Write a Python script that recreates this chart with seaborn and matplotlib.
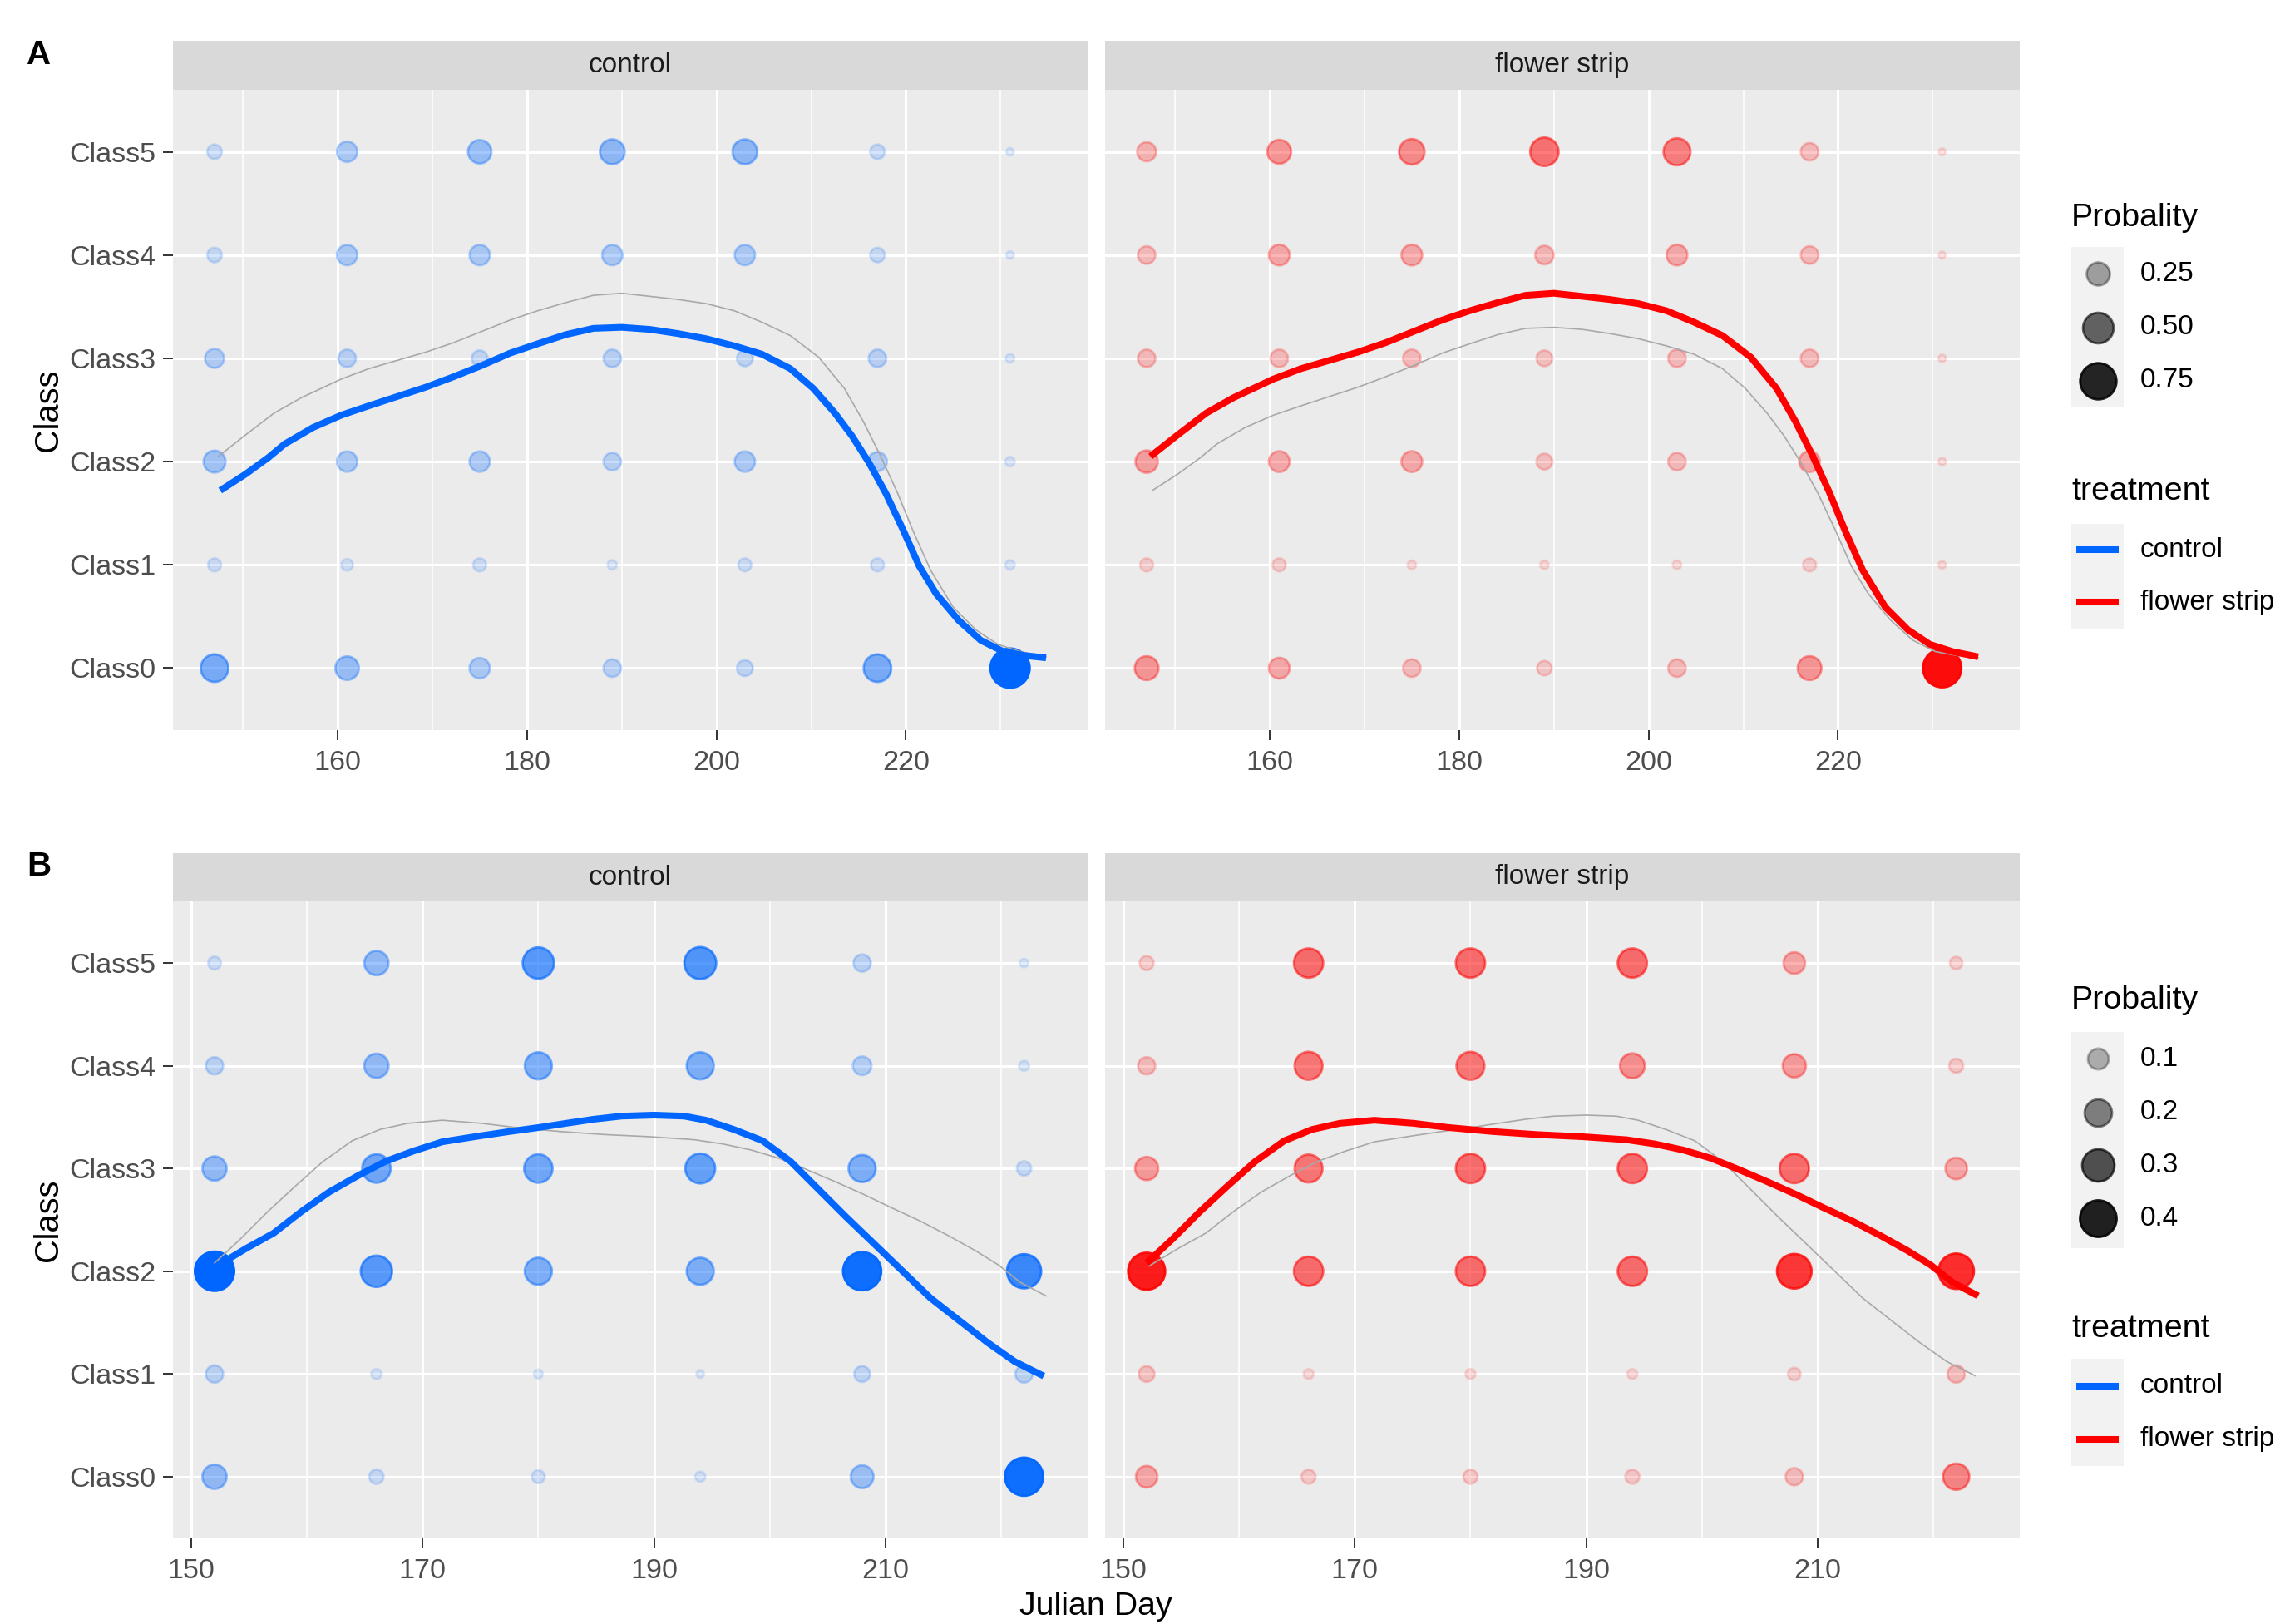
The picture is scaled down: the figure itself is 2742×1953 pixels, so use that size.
import numpy as np
import pandas as pd
import matplotlib
matplotlib.use("Agg")
import matplotlib.pyplot as plt
from matplotlib.patches import Rectangle
from matplotlib.colors import to_rgba
import seaborn as sns

# ---------------------------------------------------------------- data
classes = ["Class0", "Class1", "Class2", "Class3", "Class4", "Class5"]
treatments = ["control", "flower strip"]
treatment_colors = {"control": "#0066FF", "flower strip": "#FF0000"}

# Survey A: sampling days and class probabilities (rows Class0..Class5)
days_a = [147, 161, 175, 189, 203, 217, 231]
prob_a_control = [
    [0.39, 0.26, 0.18, 0.12, 0.09, 0.39, 0.90],
    [0.05, 0.035, 0.05, 0.015, 0.05, 0.05, 0.015],
    [0.22, 0.18, 0.18, 0.12, 0.18, 0.15, 0.015],
    [0.15, 0.12, 0.09, 0.12, 0.09, 0.12, 0.01],
    [0.07, 0.18, 0.18, 0.18, 0.18, 0.07, 0.005],
    [0.07, 0.18, 0.26, 0.30, 0.30, 0.07, 0.005],
]
prob_a_flower = [
    [0.27, 0.19, 0.12, 0.07, 0.12, 0.27, 0.85],
    [0.05, 0.05, 0.01, 0.01, 0.01, 0.05, 0.005],
    [0.23, 0.19, 0.19, 0.09, 0.12, 0.19, 0.005],
    [0.12, 0.12, 0.12, 0.09, 0.12, 0.12, 0.005],
    [0.12, 0.19, 0.19, 0.14, 0.19, 0.12, 0.003],
    [0.15, 0.27, 0.32, 0.42, 0.37, 0.12, 0.003],
]
# smoothed mean class position over the season
smooth_a_control_day = [147.6, 150.3, 152.7, 154.4, 157.4, 160.4, 163.3, 166.3, 169.3,
                        172.2, 175.2, 178.2, 181.1, 184.1, 187.0, 190.0, 193.0, 195.9,
                        198.9, 201.9, 204.8, 207.8, 210.2, 212.5, 214.3, 216.1, 217.9,
                        219.7, 221.4, 223.2, 225.6, 227.9, 230.3, 232.7, 234.8]
smooth_a_control = [1.72, 1.88, 2.04, 2.17, 2.33, 2.45, 2.54, 2.63, 2.72,
                    2.82, 2.93, 3.05, 3.14, 3.23, 3.29, 3.30, 3.28, 3.24,
                    3.19, 3.12, 3.04, 2.90, 2.71, 2.47, 2.25, 1.99, 1.69,
                    1.34, 0.99, 0.72, 0.46, 0.27, 0.16, 0.12, 0.10]
smooth_a_flower_day = [147.4, 150.3, 153.3, 156.2, 160.4, 163.3, 166.3, 169.3, 172.2,
                       175.2, 178.2, 181.1, 184.1, 187.0, 190.0, 193.0, 195.9, 198.9,
                       201.9, 204.8, 207.8, 210.8, 213.5, 215.5, 217.3, 219.1, 220.8,
                       222.6, 225.0, 227.4, 229.7, 232.1, 234.8]
smooth_a_flower = [2.05, 2.26, 2.47, 2.62, 2.80, 2.90, 2.98, 3.06, 3.15,
                   3.26, 3.37, 3.46, 3.54, 3.61, 3.63, 3.60, 3.57, 3.53,
                   3.46, 3.35, 3.22, 3.01, 2.71, 2.39, 2.06, 1.70, 1.32,
                   0.95, 0.59, 0.37, 0.23, 0.16, 0.11]

# Survey B
days_b = [152, 166, 180, 194, 208, 222]
prob_b_control = [
    [0.148, 0.035, 0.025, 0.011, 0.127, 0.44],
    [0.06, 0.011, 0.006, 0.003, 0.047, 0.06],
    [0.47, 0.276, 0.195, 0.195, 0.44, 0.34],
    [0.148, 0.22, 0.22, 0.247, 0.195, 0.035],
    [0.06, 0.148, 0.195, 0.195, 0.074, 0.01],
    [0.025, 0.148, 0.276, 0.29, 0.06, 0.005],
]
prob_b_flower = [
    [0.11, 0.033, 0.033, 0.033, 0.06, 0.18],
    [0.046, 0.01, 0.01, 0.01, 0.023, 0.06],
    [0.41, 0.235, 0.235, 0.235, 0.35, 0.37],
    [0.133, 0.21, 0.235, 0.235, 0.235, 0.11],
    [0.06, 0.21, 0.21, 0.156, 0.133, 0.033],
    [0.033, 0.235, 0.235, 0.235, 0.11, 0.023],
]
smooth_b_control_day = [152.2, 154.7, 157.1, 159.5, 161.9, 164.4, 166.8, 169.2, 171.7,
                        175.1, 177.5, 180.1, 182.4, 184.8, 187.2, 190.0, 192.6, 194.5,
                        196.9, 199.4, 201.8, 204.2, 206.6, 209.1, 211.5, 213.9, 216.4,
                        218.8, 221.2, 223.7]
smooth_b_control = [2.05, 2.22, 2.37, 2.58, 2.77, 2.93, 3.07, 3.17, 3.26,
                    3.32, 3.36, 3.40, 3.44, 3.48, 3.51, 3.52, 3.51, 3.47,
                    3.38, 3.27, 3.07, 2.80, 2.53, 2.26, 2.00, 1.74, 1.52,
                    1.31, 1.12, 0.98]
smooth_b_flower_day = [152.0, 154.2, 156.6, 159.0, 161.4, 163.9, 166.3, 168.7, 171.7,
                       175.1, 178.0, 181.9, 185.8, 189.6, 193.5, 195.9, 198.4, 200.8,
                       203.2, 205.7, 208.1, 210.5, 213.0, 215.4, 217.8, 219.8, 221.7,
                       223.9]
smooth_b_flower = [2.08, 2.31, 2.58, 2.83, 3.07, 3.27, 3.38, 3.44, 3.47,
                   3.44, 3.40, 3.36, 3.33, 3.31, 3.28, 3.24, 3.18, 3.10,
                   2.99, 2.87, 2.75, 2.62, 2.49, 2.35, 2.20, 2.06, 1.89,
                   1.76]

legend_levels_a = [0.25, 0.50, 0.75]
legend_labels_a = ["0.25", "0.50", "0.75"]
legend_levels_b = [0.1, 0.2, 0.3, 0.4]
legend_labels_b = ["0.1", "0.2", "0.3", "0.4"]


def long_points(days, probs, treatment):
    rows = []
    for ci, cls in enumerate(classes):
        for di, d in enumerate(days):
            rows.append({"day": d, "Class": cls, "pos": ci,
                         "prob": probs[ci][di], "treatment": treatment})
    return pd.DataFrame(rows)


surveys = [
    dict(tag="A",
         points={"control": long_points(days_a, prob_a_control, "control"),
                 "flower strip": long_points(days_a, prob_a_flower, "flower strip")},
         smooth={"control": pd.DataFrame({"day": smooth_a_control_day, "pos": smooth_a_control}),
                 "flower strip": pd.DataFrame({"day": smooth_a_flower_day, "pos": smooth_a_flower})},
         xticks=[160, 180, 200, 220], xminor=[150, 170, 190, 210, 230],
         legend_levels=legend_levels_a, legend_labels=legend_labels_a,
         strip=(49, 108), panel=(108, 878), tag_y=66),
    dict(tag="B",
         points={"control": long_points(days_b, prob_b_control, "control"),
                 "flower strip": long_points(days_b, prob_b_flower, "flower strip")},
         smooth={"control": pd.DataFrame({"day": smooth_b_control_day, "pos": smooth_b_control}),
                 "flower strip": pd.DataFrame({"day": smooth_b_flower_day, "pos": smooth_b_flower})},
         xticks=[150, 170, 190, 210], xminor=[160, 180, 200, 220],
         legend_levels=legend_levels_b, legend_labels=legend_labels_b,
         strip=(1026, 1084), panel=(1084, 1850), tag_y=1042),
]

# ---------------------------------------------------------------- style
W, H, DPI = 2742, 1953, 200
PX = 72.0 / DPI          # points per pixel
EDGE_PT = 1.0            # outline width of the points

FONT = ["Liberation Sans", "DejaVu Sans"]
plt.rcParams["font.family"] = FONT
TICK_COLOR = "#4D4D4D"
PANEL_BG = "#EBEBEB"
STRIP_BG = "#D9D9D9"


def point_area(p, pmax):
    d_px = 9 + 41 * np.sqrt(p / pmax) - EDGE_PT / PX
    d_pt = d_px * PX
    return d_pt * d_pt


def point_alpha(p, pmax):
    return 0.1 + 0.9 * p / pmax


def frac(x0, y0, x1, y1):
    return [x0 / W, 1 - y1 / H, (x1 - x0) / W, (y1 - y0) / H]


fig = plt.figure(figsize=(W / DPI, H / DPI), dpi=DPI)
fig.patch.set_facecolor("white")

panel_x = {"control": (208, 1308), "flower strip": (1329, 2429)}

for sv in surveys:
    pts_all = pd.concat(sv["points"].values())
    pmax = pts_all["prob"].max()
    all_days = list(pts_all["day"]) + [d for s in sv["smooth"].values() for d in s["day"]]
    lo, hi = min(all_days), max(all_days)
    pad = 0.05 * (hi - lo)
    xlim = (lo - pad, hi + pad)

    for k, tr in enumerate(treatments):
        x0, x1 = panel_x[tr]
        # facet strip
        sax = fig.add_axes(frac(x0, sv["strip"][0], x1, sv["strip"][1]))
        sax.set_facecolor(STRIP_BG)
        sax.set_xticks([]); sax.set_yticks([])
        for s in sax.spines.values():
            s.set_visible(False)
        sax.text(0.5, 0.5, tr, ha="center", va="center", fontsize=12,
                 color="#1A1A1A", transform=sax.transAxes)

        ax = fig.add_axes(frac(x0, sv["panel"][0], x1, sv["panel"][1]))
        ax.set_facecolor(PANEL_BG)
        for s in ax.spines.values():
            s.set_visible(False)

        df = sv["points"][tr]
        sizes = {p: point_area(p, pmax) for p in df["prob"].unique()}
        sns.scatterplot(data=df, x="day", y="pos", size="prob", sizes=sizes,
                        color=treatment_colors[tr], legend=False, ax=ax,
                        linewidth=EDGE_PT, zorder=3)
        coll = ax.collections[-1]
        rgba = [to_rgba(treatment_colors[tr], point_alpha(p, pmax)) for p in df["prob"]]
        coll.set_facecolor(rgba)
        coll.set_edgecolor(rgba)

        other = treatments[1 - k]
        sns.lineplot(data=sv["smooth"][other], x="day", y="pos", ax=ax,
                     color="#A8A8A8", lw=0.6, estimator=None, sort=False,
                     legend=False, zorder=4)
        sns.lineplot(data=sv["smooth"][tr], x="day", y="pos", ax=ax,
                     color=treatment_colors[tr], lw=2.9, estimator=None, sort=False,
                     legend=False, zorder=5, solid_capstyle="butt",
                     solid_joinstyle="round")

        ax.set_xlim(*xlim)
        ax.set_ylim(-0.6, len(classes) - 0.4)
        ax.set_xticks(sv["xticks"])
        ax.set_xticks(sv["xminor"], minor=True)
        ax.set_xticklabels([str(t) for t in sv["xticks"]])
        ax.set_yticks(range(len(classes)))
        ax.grid(which="major", color="white", lw=1.1)
        ax.grid(which="minor", axis="x", color="white", lw=0.55)
        ax.set_axisbelow(True)
        ax.tick_params(axis="x", which="major", length=4.3, width=0.7,
                       color="#333333", labelsize=12.3, labelcolor=TICK_COLOR, pad=4.3)
        ax.tick_params(which="minor", length=0)
        if k == 0:
            ax.set_yticklabels(classes)
            ax.tick_params(axis="y", length=4.3, width=0.7, color="#333333",
                           labelsize=12.3, labelcolor=TICK_COLOR, pad=3.3)
        else:
            ax.tick_params(axis="y", length=0, labelleft=False)
        ax.set_xlabel("")
        ax.set_ylabel("")

    # row tag and y title
    y_mid = (sv["panel"][0] + sv["panel"][1]) / 2
    fig.text(47 / W, 1 - sv["tag_y"] / H, sv["tag"],
             ha="center", va="center", fontsize=14.5, fontweight="bold", color="black")
    fig.text(58 / W, 1 - y_mid / H, "Class", rotation=90, ha="center", va="center",
             fontsize=14.3, color="black")

fig.text(1318 / W, 1 - 1932 / H, "Julian Day", ha="center", va="center",
         fontsize=14.2, color="black")

# ---------------------------------------------------------------- legends
lax = fig.add_axes([0, 0, 1, 1])
lax.set_xlim(0, W)
lax.set_ylim(H, 0)
lax.axis("off")

KEY_X0, KEY_W = 2491, 63
KEY_CX = KEY_X0 + KEY_W / 2
LABEL_X = 2574
legend_rows = [
    dict(title_y=262, key_y=[329, 393.5, 458], tr_title_y=591, tr_key_y=[661, 724]),
    dict(title_y=1203, key_y=[1273, 1338, 1401, 1465], tr_title_y=1598, tr_key_y=[1666.5, 1731]),
]
for sv, lr in zip(surveys, legend_rows):
    pmax = pd.concat(sv["points"].values())["prob"].max()
    ky = lr["key_y"]
    step = ky[1] - ky[0]
    lax.add_patch(Rectangle((KEY_X0, ky[0] - step / 2), KEY_W, step * len(ky),
                            facecolor="#F2F2F2", edgecolor="none"))
    lax.text(KEY_X0, lr["title_y"], "Probality", ha="left", va="center", fontsize=14.2)
    for y, v, lab in zip(ky, sv["legend_levels"], sv["legend_labels"]):
        c = to_rgba("black", point_alpha(v, pmax))
        lax.scatter([KEY_CX], [y], s=point_area(v, pmax), facecolor=c, edgecolor=c,
                    linewidth=EDGE_PT)
        lax.text(LABEL_X, y, lab, ha="left", va="center", fontsize=12)

    ty = lr["tr_key_y"]
    tstep = ty[1] - ty[0]
    lax.add_patch(Rectangle((KEY_X0, ty[0] - tstep / 2), KEY_W, tstep * len(ty),
                            facecolor="#F2F2F2", edgecolor="none"))
    lax.text(KEY_X0, lr["tr_title_y"], "treatment", ha="left", va="center", fontsize=14.2)
    for y, tr in zip(ty, treatments):
        lax.plot([KEY_X0 + 6, KEY_X0 + KEY_W - 6], [y, y], color=treatment_colors[tr],
                 lw=2.9, solid_capstyle="butt")
        lax.text(LABEL_X, y, tr, ha="left", va="center", fontsize=12)

fig.savefig("out.png", dpi=DPI, facecolor="white")
